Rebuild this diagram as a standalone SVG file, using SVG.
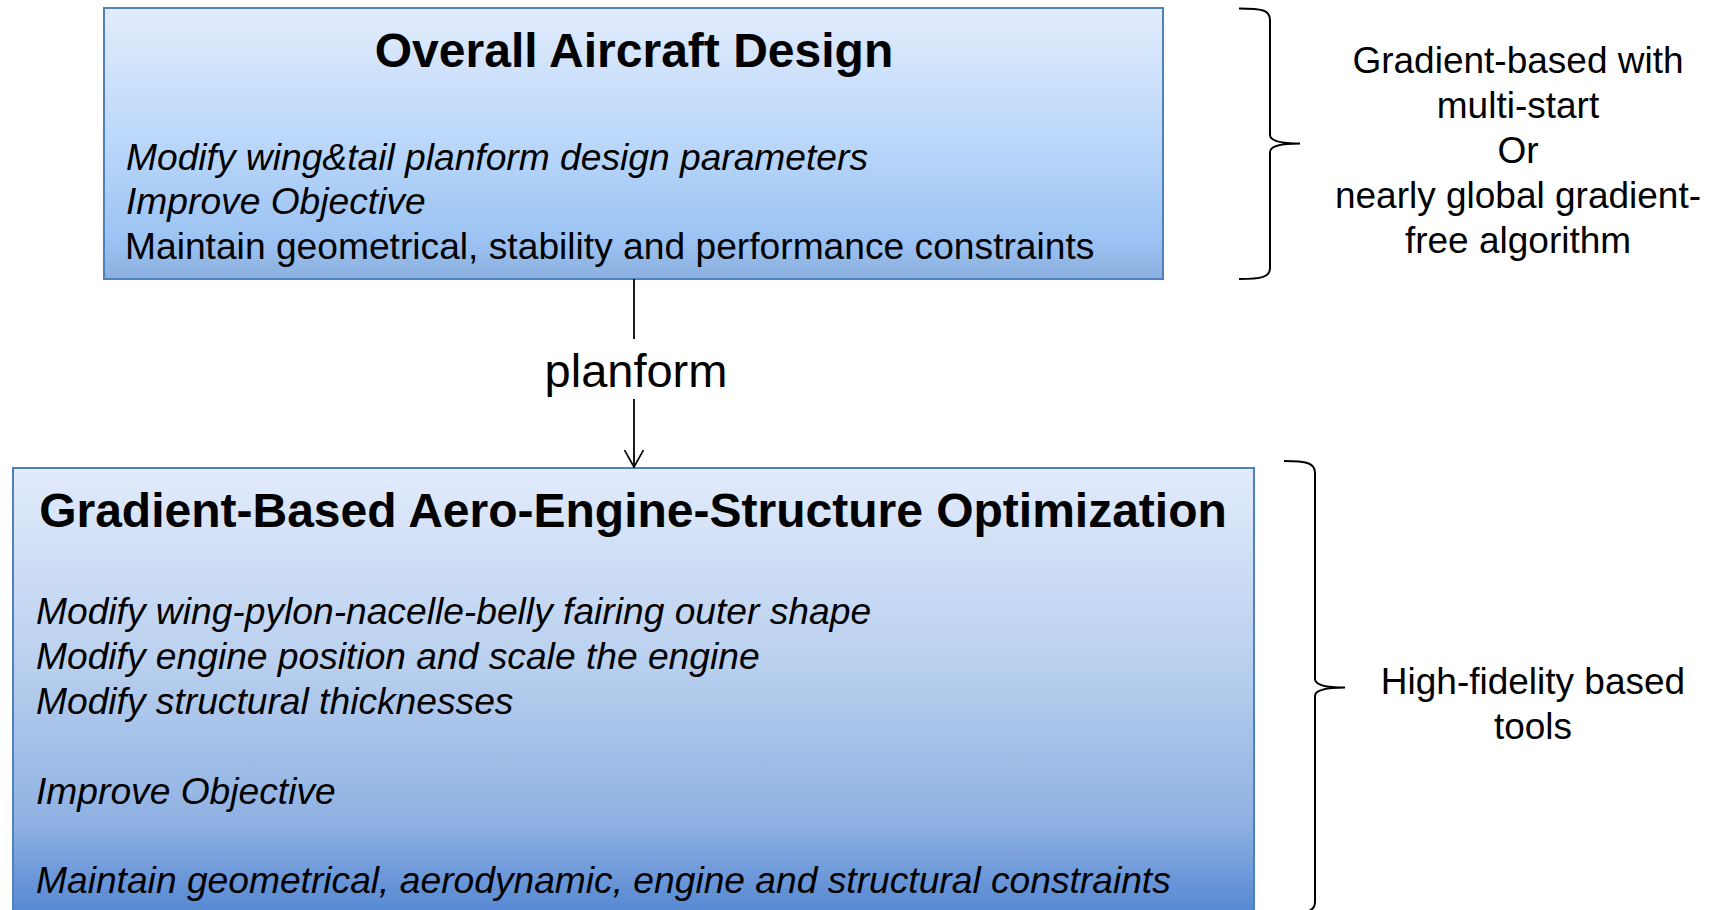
<svg xmlns="http://www.w3.org/2000/svg" width="1720" height="910" viewBox="0 0 1720 910">
<style>
.box{stroke:#4f81bd;stroke-width:2}
.title{font-family:"Liberation Sans",Arial,sans-serif;font-weight:bold;font-size:48px;fill:#000;text-anchor:middle}
.body{font-family:"Liberation Sans",Arial,sans-serif;font-size:37.2px;fill:#000}
.it{font-style:italic}
.side{font-family:"Liberation Sans",Arial,sans-serif;font-size:37px;fill:#000;text-anchor:middle}
.lbl{font-family:"Liberation Sans",Arial,sans-serif;font-size:47px;fill:#000;text-anchor:middle}
.conn{stroke:#000;stroke-width:1.8;fill:none}
.brace{stroke:#000;stroke-width:2;fill:none}
</style>
<defs>
<linearGradient id="gTop" x1="0" y1="0" x2="0" y2="1">
<stop offset="0" stop-color="#e2ecfc"/>
<stop offset="0.5" stop-color="#bad7fa"/>
<stop offset="0.85" stop-color="#9cc3f3"/>
<stop offset="1" stop-color="#8bb0e0"/>
</linearGradient>
<linearGradient id="gBot" gradientUnits="userSpaceOnUse" x1="0" y1="468" x2="0" y2="912">
<stop offset="0" stop-color="#e2ebfc"/>
<stop offset="0.45" stop-color="#b8cfee"/>
<stop offset="0.8" stop-color="#8fb1e2"/>
<stop offset="1" stop-color="#5688d3"/>
</linearGradient>
<marker id="arrow" markerUnits="userSpaceOnUse" markerWidth="20" markerHeight="22" refX="17" refY="10" orient="auto">
<path d="M0,0.5 L17,10 L0,19.5" fill="none" stroke="#000" stroke-width="1.6"/>
</marker>
</defs>

<g id="node-overall">
<rect class="box" x="104" y="8" width="1059" height="271" fill="url(#gTop)"/>
<text class="title" x="634" y="67">Overall Aircraft Design</text>
<text class="body it" x="126" y="170">Modify wing&amp;tail planform design parameters</text>
<text class="body it" x="126" y="214">Improve Objective</text>
<text class="body" x="125" y="259">Maintain geometrical, stability and performance constraints</text>
</g>

<g id="node-gradient">
<rect class="box" x="13" y="468" width="1241" height="460" fill="url(#gBot)"/>
<text class="title" x="633" y="527">Gradient-Based Aero-Engine-Structure Optimization</text>
<text class="body it" x="36" y="624">Modify wing-pylon-nacelle-belly fairing outer shape</text>
<text class="body it" x="36" y="669">Modify engine position and scale the engine</text>
<text class="body it" x="36" y="714">Modify structural thicknesses</text>
<text class="body it" x="36" y="804">Improve Objective</text>
<text class="body it" x="36" y="893">Maintain geometrical, aerodynamic, engine and structural constraints</text>
</g>

<g id="connectors">
<line class="conn" x1="634" y1="279" x2="634" y2="339"/>
<line class="conn" x1="634" y1="399" x2="634" y2="467" marker-end="url(#arrow)"/>
<text class="lbl" x="636" y="387">planform</text>
</g>

<g id="brace-top">
<path class="brace" d="M1239,8.5 C1262,8.5 1270,10 1270,20 L1270,135 C1270,141 1280,143.5 1300,143.5 C1280,143.5 1270,146 1270,152 L1270,268 C1270,277 1262,279 1239,279"/>
<text class="side" x="1518" y="73">Gradient-based with</text>
<text class="side" x="1518" y="118">multi-start</text>
<text class="side" x="1518" y="163">Or</text>
<text class="side" x="1518" y="208">nearly global gradient-</text>
<text class="side" x="1518" y="253">free algorithm</text>
</g>

<g id="brace-bottom">
<path class="brace" d="M1284,461 C1307,461 1315,463 1315,473 L1315,679 C1315,685 1325,687.5 1345,687.5 C1325,687.5 1315,690 1315,696 L1315,902 C1315,911 1307,914 1284,914"/>
<text class="side" x="1533" y="694">High-fidelity based</text>
<text class="side" x="1533" y="739">tools</text>
</g>
</svg>
